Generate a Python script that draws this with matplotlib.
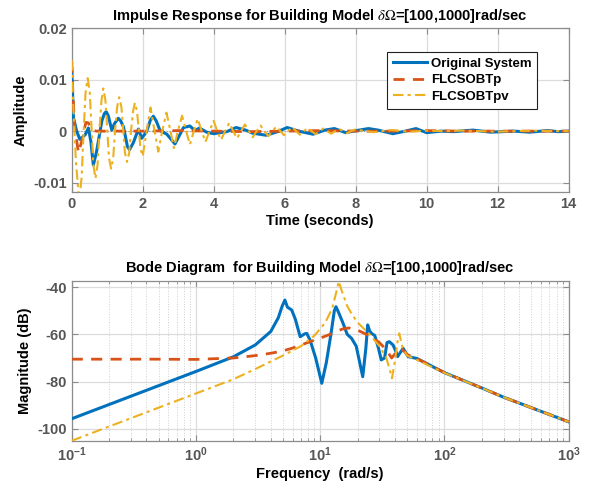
import matplotlib
matplotlib.use("Agg")
import matplotlib.pyplot as plt
from matplotlib.ticker import LogLocator, NullFormatter

plt.rcParams['font.family'] = ['Liberation Sans', 'DejaVu Sans']
plt.rcParams['axes.unicode_minus'] = False
plt.rcParams['mathtext.fontset'] = 'stix'

# ---------------- Impulse response data ----------------
t_orig = [0.0, 0.05, 0.14, 0.23, 0.38, 0.47, 0.54, 0.61, 0.70, 0.85, 0.92, 0.97, 1.03, 1.13,
          1.20, 1.31, 1.38, 1.46, 1.57, 1.63, 1.74, 1.88, 1.97, 2.11, 2.22, 2.30, 2.38,
          2.49, 2.68, 2.91, 3.15, 3.33, 3.47, 3.60, 3.80, 4.00, 4.37, 4.63, 4.90, 5.10,
          5.48, 5.80, 6.07, 6.39, 6.80, 7.13, 7.40, 7.72, 7.93, 8.36, 8.63, 9.05, 9.40,
          9.70, 10.0, 10.4, 10.76, 11.3, 11.8, 12.46, 12.9, 13.4, 13.7, 14.0]
y_orig = [0.0121, 0.0026, 0.0, -0.0016, -0.0007, 0.0006, -0.0020, -0.0066, -0.0040, 0.0020,
          0.0034, 0.0038, 0.0030, 0.0002, 0.0014, 0.0025, 0.0020, 0.0008, -0.0030, -0.0036,
          -0.0022, 0.0004, -0.0014, -0.0001, 0.0022, 0.0029, 0.0020, 0.0001, -0.0006,
          -0.0025, 0.0007, 0.0010, 0.0001, 0.0006, -0.0002, -0.0005, -0.0001, 0.0007,
          0.0002, -0.0004, -0.0008, -0.0001, 0.0007, 0.0000, -0.0006, 0.0002, 0.0005,
          -0.0003, 0.0000, 0.0005, 0.0002, -0.0005, 0.0000, 0.0005, -0.0003, 0.0000,
          -0.0001, 0.0002, -0.0002, 0.0000, -0.0002, 0.0001, -0.0001, 0.0000]

t_p = [0.0, 0.03, 0.08, 0.19, 0.28, 0.40, 0.47, 0.56, 0.70, 1.0, 2.0, 3.0, 4.0, 5.0,
       6.0, 7.0, 8.0, 9.0, 10.0, 11.0, 12.0, 13.0, 14.0]
y_p = [0.0135, 0.0080, 0.0010, -0.0042, -0.0020, 0.0017, 0.0016, 0.0002, 0.0, 0.0,
       0.0, 0.0001, 0.0, -0.0001, 0.0, 0.0001, 0.0, 0.0, 0.0001, 0.0, 0.0, 0.0, 0.0]

t_pv = [0.0, 0.05, 0.12, 0.21, 0.28, 0.33, 0.39, 0.45, 0.51, 0.56, 0.61, 0.67, 0.73,
        0.78, 0.84, 0.89, 0.95, 1.00, 1.05, 1.11, 1.17, 1.22, 1.28, 1.34, 1.40, 1.45,
        1.50, 1.56, 1.62, 1.67, 1.73, 1.78, 1.84, 1.89, 1.94, 2.00, 2.11, 2.22, 2.33,
        2.44, 2.55, 2.67, 2.78, 2.88, 2.99, 3.11, 3.22, 3.33, 3.44, 3.55, 3.66, 3.77,
        3.88, 4.00, 4.10, 4.21, 4.32, 4.44, 4.55, 4.66, 4.77, 4.88, 4.99, 5.10, 5.21,
        5.32, 5.43, 5.54, 5.65, 5.77, 5.88, 5.98, 6.10, 6.21, 6.32, 6.43, 6.54, 6.65,
        6.76, 6.87, 6.98, 7.09, 7.20, 7.31, 7.42, 7.54, 7.65, 7.76, 7.87, 7.98, 8.5,
        9.0, 9.5, 10.0, 10.5, 11.0, 11.5, 12.0, 12.5, 13.0, 13.5, 14.0]
y_pv = [0.0138, 0.0040, -0.0060, -0.0135, -0.0090, -0.0010, 0.0075, 0.0103, 0.0075,
        0.0005, -0.0065, -0.0092, -0.0065, 0.0000, 0.0060, 0.0083, 0.0060, 0.0005,
        -0.0052, -0.0073, -0.0052, 0.0000, 0.0047, 0.0066, 0.0047, 0.0003, -0.0042,
        -0.0060, -0.0042, 0.0000, 0.0039, 0.0055, 0.0039, 0.0002, -0.0035, -0.0049,
        0.0000, 0.0046, 0.0002, -0.0040, 0.0000, 0.0036, 0.0001, -0.0033, 0.0000,
        0.0030, 0.0001, -0.0026, 0.0000, 0.0024, 0.0000, -0.0021, 0.0000, 0.0020,
        0.0000, -0.0017, 0.0000, 0.0016, 0.0000, -0.0014, 0.0000, 0.0013, 0.0000,
        -0.0012, 0.0000, 0.0011, 0.0000, -0.0010, 0.0000, 0.0009, 0.0000, -0.0008,
        0.0000, 0.0008, 0.0000, -0.0007, 0.0000, 0.0006, 0.0000, -0.0006, 0.0000,
        0.0005, 0.0000, -0.0005, 0.0000, 0.0004, 0.0000, -0.0004, 0.0000, 0.0003,
        -0.0002, 0.0002, -0.0001, 0.0001, 0.0, 0.0001, 0.0, -0.0001, 0.0, 0.0001,
        0.0, 0.0]

# ---------------- Bode magnitude data ----------------
f_orig = [0.1, 1.0, 2.0, 3.0, 4.0, 4.6, 4.95, 5.2, 5.45, 5.9, 6.3, 6.9, 7.5, 7.8, 8.3,
          9.2, 10.3, 11.2, 12.2, 13.0, 13.4, 14.0, 15.2, 16.5, 17.9, 19.5, 22.0, 23.3,
          24.1, 25.0, 25.9, 27.5, 29.5, 31.0, 33.0, 34.5, 36.0, 38.6, 40.5, 42.0, 46.5,
          51.0, 60.0, 100.0, 200.0, 300.0, 1000.0]
m_orig = [-95.7, -75.7, -69.5, -64.5, -58.8, -53.0, -48.0, -45.5, -48.5, -49.7, -53.5,
          -61.0, -59.8, -59.6, -62.5, -70.0, -80.7, -72.0, -60.0, -50.0, -48.3, -50.5,
          -55.0, -60.0, -61.7, -65.0, -77.9, -66.0, -56.0, -58.5, -59.6, -60.5, -66.0,
          -70.8, -70.0, -63.5, -63.1, -64.5, -67.0, -69.4, -65.9, -69.4, -70.2, -76.2,
          -82.7, -86.6, -97.0]

f_p = [0.1, 0.5, 1.0, 2.0, 3.0, 4.0, 5.0, 6.0, 8.0, 10.0, 12.0, 15.0, 17.0, 20.0, 25.0,
       30.0, 34.0, 37.6, 41.0, 45.0, 50.0, 60.0, 100.0, 200.0, 300.0, 1000.0]
m_p = [-70.5, -70.5, -70.6, -70.0, -69.0, -68.0, -67.0, -65.8, -63.4, -61.6, -60.0,
       -57.8, -57.3, -58.2, -60.7, -63.5, -66.5, -70.0, -67.5, -66.0, -68.5, -70.2,
       -76.2, -82.7, -86.6, -97.0]

f_pv = [0.1, 1.0, 2.0, 3.0, 5.0, 7.0, 9.0, 11.0, 12.5, 13.5, 14.1, 15.0, 16.5, 18.0,
        20.0, 25.0, 30.0, 34.0, 36.5, 37.8, 40.0, 42.0, 43.3, 46.0, 50.0, 60.0, 100.0,
        200.0, 300.0, 1000.0]
m_pv = [-105.0, -85.0, -79.0, -74.7, -69.0, -65.0, -60.5, -55.0, -49.0, -42.0, -37.6,
        -42.0, -48.0, -51.5, -55.0, -60.0, -65.0, -69.8, -75.4, -78.6, -71.2, -63.0,
        -59.6, -65.6, -69.0, -70.8, -76.3, -82.7, -86.6, -97.0]

time_ticks = [0, 2, 4, 6, 8, 10, 12, 14]
amp_ticks = [-0.01, 0, 0.01, 0.02]
amp_labels = ['-0.01', '0', '0.01', '0.02']
mag_ticks = [-100, -80, -60, -40]
mag_labels = ['-100', '-80', '-60', '-40']

C_BLUE = '#0072BD'
C_ORANGE = '#D95319'
C_YELLOW = '#EDB120'
TICK_COL = '#555555'
AX_COL = '#8c8c8c'
GRID_COL = '#dcdcdc'

fig = plt.figure(figsize=(5.92, 4.92), dpi=100)
ax1 = fig.add_axes([0.1211, 0.6091, 0.8395, 0.3334])
ax2 = fig.add_axes([0.1211, 0.1037, 0.8395, 0.3258])


def style(ax):
    for s in ax.spines.values():
        s.set_color(AX_COL)
        s.set_linewidth(0.9)
    ax.tick_params(which='both', direction='in', top=True, right=True,
                   colors=AX_COL, labelcolor=TICK_COL, labelsize=10.5)
    ax.tick_params(which='major', length=4)
    ax.tick_params(which='minor', length=2)
    for lab in ax.get_xticklabels() + ax.get_yticklabels():
        lab.set_fontweight('bold')
    ax.set_axisbelow(True)


# Top: impulse response
ax1.plot(t_orig, y_orig, color=C_BLUE, lw=2.2, label='Original System', zorder=3)
ax1.plot(t_p, y_p, color=C_ORANGE, lw=2.0, ls=(0, (4, 3)), label='FLCSOBTp', zorder=4)
ax1.plot(t_pv, y_pv, color=C_YELLOW, lw=1.5, ls=(0, (5, 2, 1.5, 2)), label='FLCSOBTpv', zorder=5)
ax1.axhline(0, color='#999999', lw=0.8, ls=':', zorder=2)
ax1.set_xlim(0, 14)
ax1.set_ylim(-0.0119, 0.02)
ax1.set_xticks(time_ticks)
ax1.set_yticks(amp_ticks)
ax1.set_yticklabels(amp_labels)
ax1.grid(True, color=GRID_COL, lw=0.9)
style(ax1)
ax1.set_title('Impulse Response for Building Model ' + r'$\delta\Omega$' + '=[100,1000]rad/sec',
              fontsize=10.5, fontweight='bold', pad=6)
ax1.set_xlabel('Time (seconds)', fontsize=10.5, fontweight='bold', labelpad=2)
ax1.set_ylabel('Amplitude', fontsize=10.5, fontweight='bold', labelpad=4)
leg = ax1.legend(loc='upper right', bbox_to_anchor=(0.937, 0.857),
                 prop={'weight': 'bold', 'size': 9.5}, frameon=True, fancybox=False,
                 framealpha=1, edgecolor='#222222', handlelength=2.6,
                 borderpad=0.45, labelspacing=0.32, handletextpad=0.3, borderaxespad=0)
leg.get_frame().set_linewidth(0.8)

# Bottom: Bode magnitude
ax2.semilogx(f_orig, m_orig, color=C_BLUE, lw=2.2, zorder=3)
ax2.semilogx(f_p, m_p, color=C_ORANGE, lw=2.0, ls=(0, (4, 3)), zorder=4)
ax2.semilogx(f_pv, m_pv, color=C_YELLOW, lw=1.5, ls=(0, (5, 2, 1.5, 2)), zorder=5)
ax2.set_xlim(0.1, 1000)
ax2.set_ylim(-105.1, -37.3)
ax2.set_yticks(mag_ticks)
ax2.set_yticklabels(mag_labels)
ax2.xaxis.set_major_locator(LogLocator(base=10, numticks=10))
ax2.xaxis.set_minor_locator(LogLocator(base=10, subs=[2, 3, 4, 5, 6, 7, 8, 9], numticks=20))
ax2.xaxis.set_minor_formatter(NullFormatter())
ax2.grid(True, which='major', color=GRID_COL, lw=0.9)
ax2.grid(True, which='minor', axis='x', color='#cfcfcf', lw=0.7, ls=':')
style(ax2)
ax2.set_title('Bode Diagram  for Building Model ' + r'$\delta\Omega$' + '=[100,1000]rad/sec',
              fontsize=10.5, fontweight='bold', pad=6)
ax2.set_xlabel('Frequency  (rad/s)', fontsize=10.5, fontweight='bold', labelpad=2)
ax2.set_ylabel('Magnitude (dB)', fontsize=10.5, fontweight='bold', labelpad=4)

fig.savefig('out.png', dpi=100, facecolor='white')
